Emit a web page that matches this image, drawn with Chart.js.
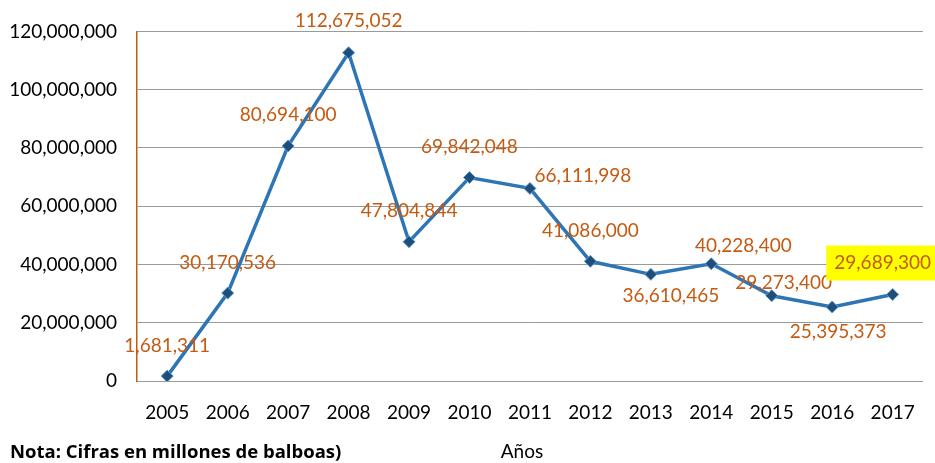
<!DOCTYPE html>
<html>
<head>
<meta charset="utf-8">
<script src="https://cdn.jsdelivr.net/npm/chart.js@4.4.0/dist/chart.umd.min.js"></script>
<style>
    body { margin: 0; background: #fff; }
</style>
</head>
<body>
<canvas id="lineChart" width="935" height="463"></canvas>
<script>
// Данные графика
const years = ['2005', '2006', '2007', '2008', '2009', '2010', '2011', '2012', '2013', '2014', '2015', '2016', '2017'];
const amounts = [1681311, 30170536, 80694100, 112675052, 47804844, 69842048, 66111998, 41086000, 36610465, 40228400, 29273400, 25395373, 29689300];
const yTicks = [0, 20000000, 40000000, 60000000, 80000000, 100000000, 120000000];

// Смещение подписей относительно точки (dx, dy)
const labelOffsets = [[0, -30], [0, -30], [0, -31], [0, -32], [0, -31], [0, -31], [53, -13], [0, -30], [20, 22], [32, -18], [12, -13], [6, 25], [-10, -32]];
const highlightIndex = 12;

const fontFamily = 'Lato, "Open Sans", sans-serif';
const labelColor = '#C55A11';

function fmt(v) {
    return v.toLocaleString('en-US');
}

// Подписи значений
const valueLabels = {
    id: 'valueLabels',
    afterDatasetsDraw(chart) {
        const ctx = chart.ctx;
        const meta = chart.getDatasetMeta(0);
        ctx.save();
        ctx.font = '19px ' + fontFamily;
        ctx.textAlign = 'center';
        ctx.textBaseline = 'middle';
        meta.data.forEach((pt, i) => {
            const x = pt.x + labelOffsets[i][0];
            const y = pt.y + labelOffsets[i][1];
            const text = fmt(amounts[i]);
            if (i === highlightIndex) {
                const w = ctx.measureText(text).width;
                ctx.fillStyle = '#FFFF00';
                ctx.fillRect(x - w / 2 - 8, y - 17, w + 16, 35);
            }
            ctx.fillStyle = labelColor;
            ctx.fillText(text, x, y);
        });
        ctx.restore();
    }
};

// Нижние надписи
const footerText = {
    id: 'footerText',
    afterDraw(chart) {
        const ctx = chart.ctx;
        ctx.save();
        ctx.fillStyle = '#000';
        ctx.textBaseline = 'middle';
        ctx.font = 'bold 18.5px "Open Sans", sans-serif';
        ctx.textAlign = 'left';
        ctx.fillText('Nota: Cifras en millones de balboas)', 10, 453);
        ctx.font = '19px ' + fontFamily;
        ctx.textAlign = 'center';
        ctx.fillText('Años', 522, 452);
        ctx.restore();
    }
};

const ctx = document.getElementById('lineChart').getContext('2d');
const chart = new Chart(ctx, {
    type: 'line',
    data: {
        labels: years,
        datasets: [{
            data: amounts,
            borderColor: '#2E75B6',
            borderWidth: 3.5,
            pointStyle: 'rectRot',
            pointRadius: 6,
            pointBackgroundColor: '#1F4E79',
            pointBorderColor: '#5B9BD5',
            pointBorderWidth: 1,
            tension: 0
        }]
    },
    options: {
        responsive: false,
        animation: false,
        layout: { padding: { top: 27, right: 8, left: 0, bottom: 0 } },
        plugins: {
            legend: { display: false },
            tooltip: { enabled: false }
        },
        scales: {
            x: {
                offset: true,
                grid: { display: false, drawTicks: false },
                border: { color: '#9A9A9A', width: 1 },
                ticks: {
                    color: '#000',
                    padding: 20,
                    maxRotation: 0,
                    font: { family: fontFamily, size: 19 }
                },
                afterFit(scale) { scale.height = 82; }
            },
            y: {
                min: 0,
                max: 120000000,
                afterBuildTicks(scale) {
                    scale.ticks = yTicks.map(v => ({ value: v }));
                },
                grid: { color: '#9A9A9A', lineWidth: 1, drawTicks: false },
                border: { color: labelColor, width: 1.5 },
                ticks: {
                    color: '#000',
                    padding: 20,
                    font: { family: fontFamily, size: 19 },
                    callback: v => fmt(v)
                },
                afterFit(scale) { scale.width = 137; }
            }
        }
    },
    plugins: [valueLabels, footerText]
});
</script>
</body>
</html>
